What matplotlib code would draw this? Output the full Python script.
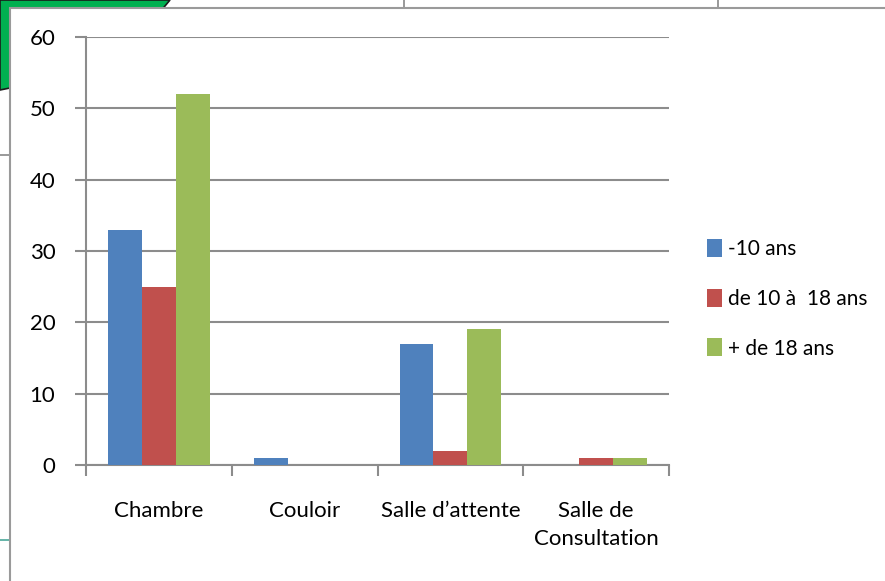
import matplotlib.pyplot as plt
import numpy as np
from matplotlib.patches import Rectangle, Polygon
from matplotlib.lines import Line2D

plt.rcParams['font.family'] = ['Lato', 'DejaVu Sans']

# lieux et tranches d'âge
lieux = ['Chambre', 'Couloir', 'Salle d\u2019attente', 'Salle de\nConsultation']
moins_10 = [33, 1, 17, 0]
de_10_a_18 = [25, 0, 2, 1]
plus_18 = [52, 0, 19, 1]
series = ['-10 ans', 'de 10 \u00e0  18 ans', '+ de 18 ans']
couleurs = ['#4F81BD', '#C0504D', '#9BBB59']

W, H = 885, 581
fig = plt.figure(figsize=(W / 100, H / 100), dpi=100)

# decor behind the chart: green shape, table lines, chart frame
def px(x, y):
    return (x / W, 1 - y / H)

fig.patches.append(Polygon([px(0, 0), px(170, 0), px(160, 12), px(10, 12), px(10, 88), px(0, 90)],
                           closed=True, facecolor='#00B050', edgecolor='#1a1a1a', lw=1.2,
                           transform=fig.transFigure, zorder=0))
for xv in (404, 718):
    fig.lines.append(Line2D([xv / W, xv / W], [1, 1 - 8 / H], color='#888888', lw=1.2,
                            transform=fig.transFigure, zorder=0))
fig.lines.append(Line2D([0, 10 / W], [1 - 155 / H, 1 - 155 / H], color='#888888', lw=1.2,
                        transform=fig.transFigure, zorder=0))
fig.lines.append(Line2D([0, 10 / W], [1 - 540 / H, 1 - 540 / H], color='#4aa89a', lw=1.2,
                        transform=fig.transFigure, zorder=0))
fig.patches.append(Rectangle(px(10, 590), (W + 10) / W, 582 / H, facecolor='white',
                             edgecolor='#9a9a9a', lw=1.5, transform=fig.transFigure, zorder=1))

ax = fig.add_axes([86 / W, 1 - 465 / H, (669 - 86) / W, (465 - 37) / H])
ax.set_zorder(3)
ax.set_facecolor('none')

x = np.arange(len(lieux))
bw = 0.232
for i, (vals, lab, c) in enumerate(zip([moins_10, de_10_a_18, plus_18], series, couleurs)):
    ax.bar(x + (i - 1) * bw, vals, bw, color=c, label=lab, zorder=3)

ax.set_xlim(-0.5, len(lieux) - 0.5)
ax.set_ylim(0, 60)
ax.set_yticks(range(0, 61, 10))
ax.yaxis.grid(True, color='#8c8c8c', lw=1.5, zorder=0)
ax.set_axisbelow(True)
ax.tick_params(axis='y', length=8, width=1.5, color='#8c8c8c', labelsize=16, pad=14)

ax.set_xticks(np.arange(-0.5, len(lieux), 1.0))
ax.set_xticklabels([])
ax.set_xticks(x, minor=True)
ax.set_xticklabels(lieux, minor=True, fontsize=16)
ax.tick_params(axis='x', which='major', length=8, width=1.5, color='#8c8c8c')
ax.tick_params(axis='x', which='minor', length=0, pad=26)
for t in ax.get_xticklabels(minor=True):
    t.set_linespacing(1.5)

for s in ('top', 'right'):
    ax.spines[s].set_visible(False)
for s in ('left', 'bottom'):
    ax.spines[s].set_color('#8c8c8c')
    ax.spines[s].set_linewidth(1.5)

leg = fig.legend(loc='upper left', bbox_to_anchor=(707 / W, 1 - 239 / H), frameon=False,
                 fontsize=15, handlelength=0.7, handleheight=0.95, handletextpad=0.3,
                 labelspacing=1.42, borderaxespad=0, borderpad=0)
leg.set_zorder(4)

fig.savefig('out.png', dpi=100)
